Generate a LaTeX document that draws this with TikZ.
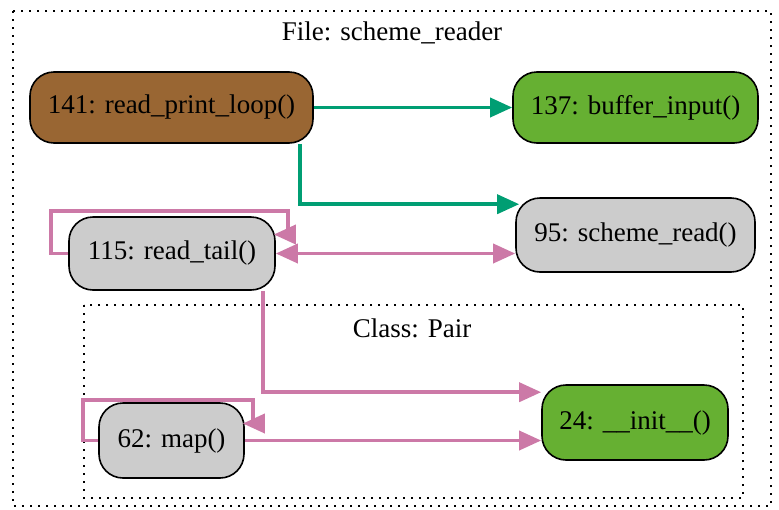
\documentclass[tikz,border=0pt]{standalone}
\usepackage{fontspec}
\setmainfont{Liberation Serif}
\usetikzlibrary{arrows.meta}
\definecolor{fbrown}{RGB}{153,102,51}
\definecolor{fgreen}{RGB}{102,176,50}
\definecolor{fgray}{RGB}{204,204,204}
\definecolor{eteal}{RGB}{0,158,115}
\definecolor{epink}{RGB}{204,121,167}
\tikzset{
  fn/.style={draw=black, line width=1.6pt, rounded corners=24pt, inner sep=0pt,
    font=\fontsize{27}{30}\selectfont, text=black},
  clusterbox/.style={draw=black, line width=2pt, dash pattern=on 2pt off 6pt},
  lbl/.style={font=\fontsize{27}{30}\selectfont, inner sep=0pt},
  tealedge/.style={draw=eteal, line width=3.6pt, -{Triangle[length=22pt,width=19pt]}},
  pinkedge/.style={draw=epink, line width=3.6pt, -{Triangle[length=22pt,width=19pt]}},
  pinkboth/.style={draw=epink, line width=3.6pt, {Triangle[length=22pt,width=19pt]}-{Triangle[length=22pt,width=19pt]}},
}
\begin{document}
\begin{tikzpicture}[x=1pt,y=-1pt]
\useasboundingbox (0,0) rectangle (779,509);
% clusters
\draw[clusterbox] (13,11) rectangle (771,506);
\draw[clusterbox] (84,305) rectangle (743,498);
\node[lbl] (ftitle) at (392,33) {File: scheme\_reader};
\node[lbl] (ctitle) at (412,328) {Class: Pair};
% nodes
\node[fn, fill=fbrown, minimum width=283pt, minimum height=71pt] (rpl) at (171.5,107.5) {141: read\_print\_loop()};
\node[fn, fill=fgreen, minimum width=245pt, minimum height=71pt] (buf) at (635.5,107.5) {137: buffer\_input()};
\node[fn, fill=fgray, minimum width=239pt, minimum height=74pt] (sr) at (635.5,235) {95: scheme\_read()};
\node[fn, fill=fgray, minimum width=206pt, minimum height=73pt] (rt) at (172,253.5) {115: read\_tail()};
\node[fn, fill=fgray, minimum width=145pt, minimum height=75pt] (map) at (171.5,440.5) {62: map()};
\node[fn, fill=fgreen, minimum width=186pt, minimum height=75pt] (init) at (635,422.5) {24: \_\_init\_\_()};
% edges
\draw[tealedge] (rpl.east) -- (buf.west);
\draw[tealedge] ([xshift=128.5pt]rpl.south) |- ([xshift=4pt,yshift=-7pt]sr.north west);
\draw[pinkedge] (rt.west) -- ++(-17,0) |- (288,211) |- ([xshift=-2pt,yshift=19pt]rt.east);
\draw[pinkboth] (rt.east) -- (rt.east -| sr.west);
\draw[pinkedge] ([xshift=91pt]rt.south) |- ([yshift=-8pt]init.north west);
\draw[pinkedge] (map.west) -- ++(-15,0) |- (253,400) |- ([xshift=-2pt,yshift=17pt]map.east);
\draw[pinkedge] (map.east) -- (map.east -| init.west);
\end{tikzpicture}
\end{document}
